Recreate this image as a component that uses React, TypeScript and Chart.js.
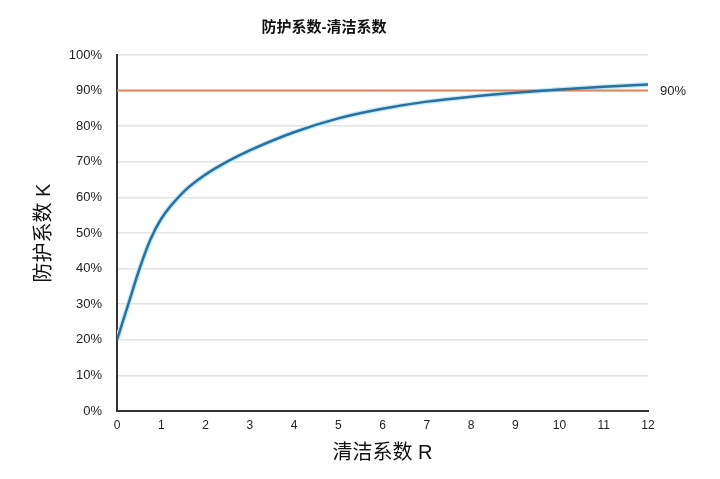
import React, { useEffect, useRef } from "react";
import { Chart, registerables } from "chart.js";

Chart.register(...registerables);

const TITLE = "防护系数-清洁系数";
const X_TITLE = "清洁系数 R";
const Y_TITLE = "防护系数 K";

// 清洁系数 R
const R_VALUES = [0, 0.25, 0.5, 0.75, 1, 1.5, 2, 2.5, 3, 4, 5, 6, 7, 8, 9, 10, 11, 12];
// 防护系数 K (%)
const K_VALUES = [20, 29.8, 39.6, 48, 54, 61.5, 66.4, 70.1, 73.2, 78.3, 82.2, 84.9, 86.9, 88.3, 89.4, 90.3, 91.1, 91.7];

// 90% reference line
const REF_R = [0, 12];
const REF_K = [90, 90];
const REF_LABEL = "90%";

const FONT = '"Liberation Sans", Arial, "Noto Sans CJK SC", sans-serif';

export default function App() {
  const ref = useRef<HTMLCanvasElement | null>(null);

  useEffect(() => {
    if (!ref.current) return;
    const curve = R_VALUES.map((r, i) => ({ x: r, y: K_VALUES[i] }));
    const refLine = REF_R.map((r, i) => ({ x: r, y: REF_K[i] }));

    const refLabelPlugin = {
      id: "refLabel",
      afterDatasetsDraw(chart: any) {
        const { ctx, chartArea, scales } = chart;
        const y = scales.y.getPixelForValue(REF_K[REF_K.length - 1]);
        ctx.save();
        ctx.font = `13px ${FONT}`;
        ctx.fillStyle = "#222";
        ctx.textAlign = "left";
        ctx.textBaseline = "middle";
        ctx.fillText(REF_LABEL, chartArea.right + 12, y + 1);
        ctx.restore();
      },
    };

    const chart = new Chart(ref.current, {
      type: "line",
      data: {
        datasets: [
          {
            data: curve,
            borderColor: "#2a6fa2",
            borderWidth: 2.5,
            pointRadius: 0,
            cubicInterpolationMode: "monotone",
            order: 0,
          },
          {
            data: refLine,
            borderColor: "#dc8660",
            borderWidth: 2,
            pointRadius: 0,
            order: 1,
          },
          {
            data: curve,
            borderColor: "#c2ecf8",
            borderWidth: 5,
            pointRadius: 0,
            cubicInterpolationMode: "monotone",
            order: 2,
          },
        ],
      },
      options: {
        animation: false,
        responsive: false,
        layout: { padding: { left: 0, right: 72, top: 0, bottom: 0 } },
        plugins: {
          legend: { display: false },
          tooltip: { enabled: false },
          title: {
            display: true,
            text: TITLE,
            color: "#111",
            font: { family: FONT, size: 15, weight: "bold" },
            padding: { top: 19, bottom: 18 },
          },
        },
        scales: {
          x: {
            type: "linear",
            min: 0,
            max: 12,
            ticks: {
              stepSize: 1,
              color: "#222",
              font: { family: FONT, size: 12 },
              padding: 7,
            },
            grid: { display: false, drawTicks: false },
            border: { display: true, color: "#333", width: 2 },
            title: {
              display: true,
              text: X_TITLE,
              color: "#111",
              font: { family: FONT, size: 20 },
              padding: { top: 0, bottom: 14 },
            },
            afterFit: (scale: any) => {
              scale.height = 68;
            },
          },
          y: {
            min: 0,
            max: 100,
            ticks: {
              stepSize: 10,
              color: "#222",
              font: { family: FONT, size: 13 },
              padding: 15,
              callback: (v: any) => `${v}%`,
            },
            grid: { color: "#e4e4e4", lineWidth: 1.5, drawTicks: false },
            border: { display: true, color: "#333", width: 2 },
            title: {
              display: true,
              text: Y_TITLE,
              color: "#111",
              font: { family: FONT, size: 20 },
              padding: { top: 32, bottom: 0 },
            },
            afterFit: (scale: any) => {
              scale.width = 117;
            },
          },
        },
      },
      plugins: [refLabelPlugin],
    } as any);

    return () => chart.destroy();
  }, []);

  return (
    <div style={{ position: "fixed", left: 0, top: 0, width: 720, height: 479, background: "#fff" }}>
      <canvas ref={ref} width={720} height={479} style={{ display: "block" }} />
    </div>
  );
}
